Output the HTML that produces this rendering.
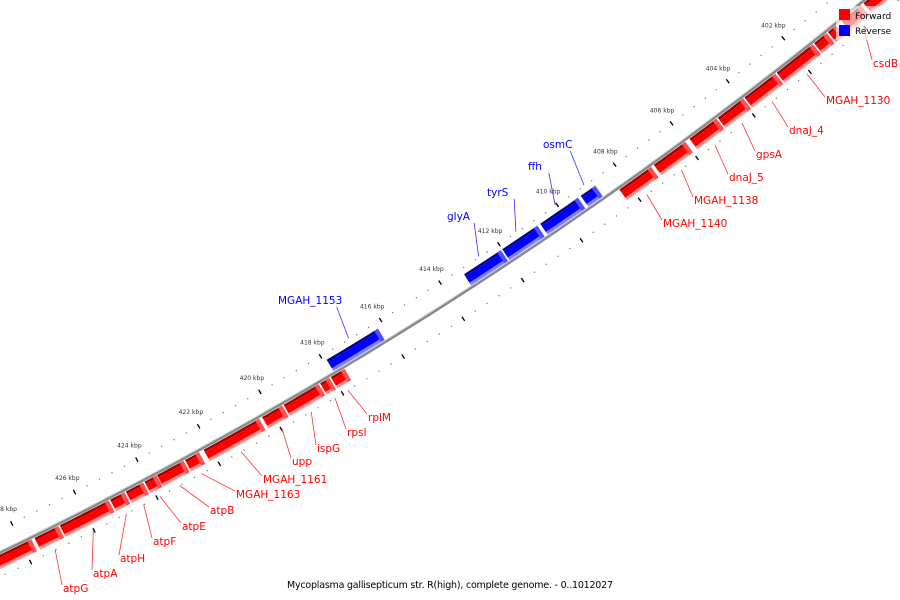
<!DOCTYPE html>
<html><head><meta charset="utf-8"><style>
html,body{margin:0;padding:0;background:#fff;width:900px;height:600px;overflow:hidden}
svg{display:block;font-family:"DejaVu Sans","Liberation Sans",sans-serif}
</style></head><body>
<svg id="map" width="900" height="600" viewBox="0 0 900 600" xmlns="http://www.w3.org/2000/svg">
<g id="scale"></g>
<g id="backbone"></g>
<g id="genes"></g>
<g id="labels"></g>
<g>
<rect x="836" y="6" width="64" height="34" fill="#fff" fill-opacity="0.6"/>
<rect x="839" y="9" width="11" height="11" fill="#f00"/>
<text x="855" y="19" font-size="9" fill="#000">Forward</text>
<rect x="839" y="25" width="11" height="11" fill="#00f"/>
<text x="855" y="34" font-size="9" fill="#000">Reverse</text>
</g>
<text x="450" y="588" text-anchor="middle" font-size="9.5" fill="#000" textLength="326">Mycoplasma gallisepticum str. R(high), complete genome. - 0..1012027</text>
</svg>
<script>
// data
const fwdNames = ["","csdB","","","MGAH_1130","dnaJ_4","gpsA","dnaJ_5","MGAH_1138","MGAH_1140","rplM","rpsI","ispG","upp","MGAH_1161","MGAH_1163","atpB","atpE","atpF","atpH","atpA","atpG",""];
const fwdStart = [398.0,399.7,400.6,400.95,401.45,402.8,403.95,404.9,406.0,407.2,417.6,418.1,418.45,419.65,420.4,422.35,422.85,423.72,424.15,424.75,425.25,426.85,427.7];
const fwdEnd =   [399.6,400.4,400.9,401.4,402.75,403.9,404.85,405.85,407.1,408.3,418.05,418.4,419.6,420.3,422.2,422.8,423.7,424.1,424.7,425.2,426.8,427.6,429.6];
const revNames = ["osmC","ffh","tyrS","glyA","MGAH_1153"];
const revStart = [408.8,409.4,410.8,412.05,416.2];
const revEnd =   [409.3,410.7,412.0,413.3,417.9];
const tickLabels = [400,402,404,406,408,410,412,414,416,418,420,422,424,426,428];
// label text anchor positions
const labelPos = {
 "csdB":[873,67],"MGAH_1130":[826,104],"dnaJ_4":[789,134],"gpsA":[756,158],"dnaJ_5":[729,181],
 "MGAH_1138":[694,204],"MGAH_1140":[663,227],"osmC":[543,148],"ffh":[528,170],"tyrS":[487,196],
 "glyA":[447,220],"MGAH_1153":[278,304],"rplM":[368,421],"rpsI":[347,436],"ispG":[317,452],
 "upp":[292,465],"MGAH_1161":[263,483],"MGAH_1163":[236,498],"atpB":[210,514],"atpE":[182,530],
 "atpF":[153,545],"atpH":[120,562],"atpA":[93,577],"atpG":[63,592]};

const NS="http://www.w3.org/2000/svg";
const CX=-1867, CY=-3320, R=4299;
function ang(k){return (51.72+(k-402)*0.4704)*Math.PI/180;}
function pt(k,off){const a=ang(k);return [CX+(R+off)*Math.cos(a), CY+(R+off)*Math.sin(a)];}
function mk(tag,parent,attrs){const e=document.createElementNS(NS,tag);for(const k in attrs)e.setAttribute(k,attrs[k]);parent.appendChild(e);return e;}
function band(k1,k2,o1,o2){const p=[];const n=4;for(let i=0;i<=n;i++)p.push(pt(k1+(k2-k1)*i/n,o1));for(let i=n;i>=0;i--)p.push(pt(k1+(k2-k1)*i/n,o2));return p.map(q=>q[0].toFixed(1)+","+q[1].toFixed(1)).join(" ");}

const gScale=document.getElementById('scale');
const gBack=document.getElementById('backbone');
const gGenes=document.getElementById('genes');
const gLab=document.getElementById('labels');

// dotted scale lines
for(let k=396;k<=431;k+=0.4){
 for(const off of [-21,22]){
  const p=pt(k,off);
  const d=mk('circle',gScale,{cx:p[0].toFixed(1),cy:p[1].toFixed(1),r:0.7,fill:'#777'});
  
  
 }
}
tickLabels.forEach(k=>{
 for(const off of [-21,22]){
  const a=pt(k,off-2.5), b=pt(k,off+2.5);
  const t=mk('line',gScale,{x1:a[0],y1:a[1],x2:b[0],y2:b[1],stroke:'#000','stroke-width':1.3});
  
  
 }
 const p=pt(k,-37);
 const tx=mk('text',gScale,{x:p[0].toFixed(1),y:(p[1]+2).toFixed(1),'font-size':6,'text-anchor':'middle',fill:'#333'});
 tx.textContent=k+' kbp';
 
 
});

// backbone
(function(){
 let d='';for(let k=396;k<=431;k+=0.5){const p=pt(k,0);d+=(d?'L':'M')+p[0].toFixed(1)+' '+p[1].toFixed(1);}
 const l1=mk('path',gBack,{d:d,fill:'none',stroke:'#888','stroke-width':3});
 
 
 const l2=mk('path',gBack,{d:d,fill:'none',stroke:'#ccc','stroke-width':1,transform:'translate(-0.8,-1)'});
 
 
})();

function drawGene(k1,k2,dir,name){
 const g=mk('g',gGenes,{});
 
 
 if(dir>0){
  mk('polygon',g,{points:band(k1,k2,12,15),fill:'#ff9090'});
  mk('polygon',g,{points:band(k1,k2,4.5,12),fill:'#ff0000'});
  mk('polygon',g,{points:band(k1,k2,2,4.5),fill:'#a00000'});
  mk('polygon',g,{points:band(k1,k1+0.12,2,15),fill:'#ff5050'});
 } else {
  mk('polygon',g,{points:band(k1,k2,-5,-2),fill:'#8080ff'});
  mk('polygon',g,{points:band(k1,k2,-12.5,-5),fill:'#0000ff'});
  mk('polygon',g,{points:band(k1,k2,-15,-12.5),fill:'#000090'});
  mk('polygon',g,{points:band(k1,k1+0.12,-15,-2),fill:'#5050ff'});
 }
 if(name && labelPos[name]){
  const lp=labelPos[name];
  const s=pt((k1+k2)/2, dir>0?22:-22);
  const ex=lp[0]+(dir>0?-1:(name.length*6.3+2)), ey=lp[1]-(dir>0?7:-3);
  const ln=mk('line',gLab,{x1:s[0].toFixed(1),y1:s[1].toFixed(1),x2:ex,y2:ey,stroke:dir>0?'#f33':'#33f','stroke-width':0.8});
  
  
  const t=mk('text',gLab,{x:lp[0],y:lp[1],'font-size':10.5,fill:dir>0?'#f00':'#00f'});
  t.textContent=name;
  
  
 }
}
fwdNames.forEach((n,i)=>drawGene(fwdStart[i],fwdEnd[i],1,n));
revNames.forEach((n,i)=>drawGene(revStart[i],revEnd[i],-1,n));
</script>
</body></html>
